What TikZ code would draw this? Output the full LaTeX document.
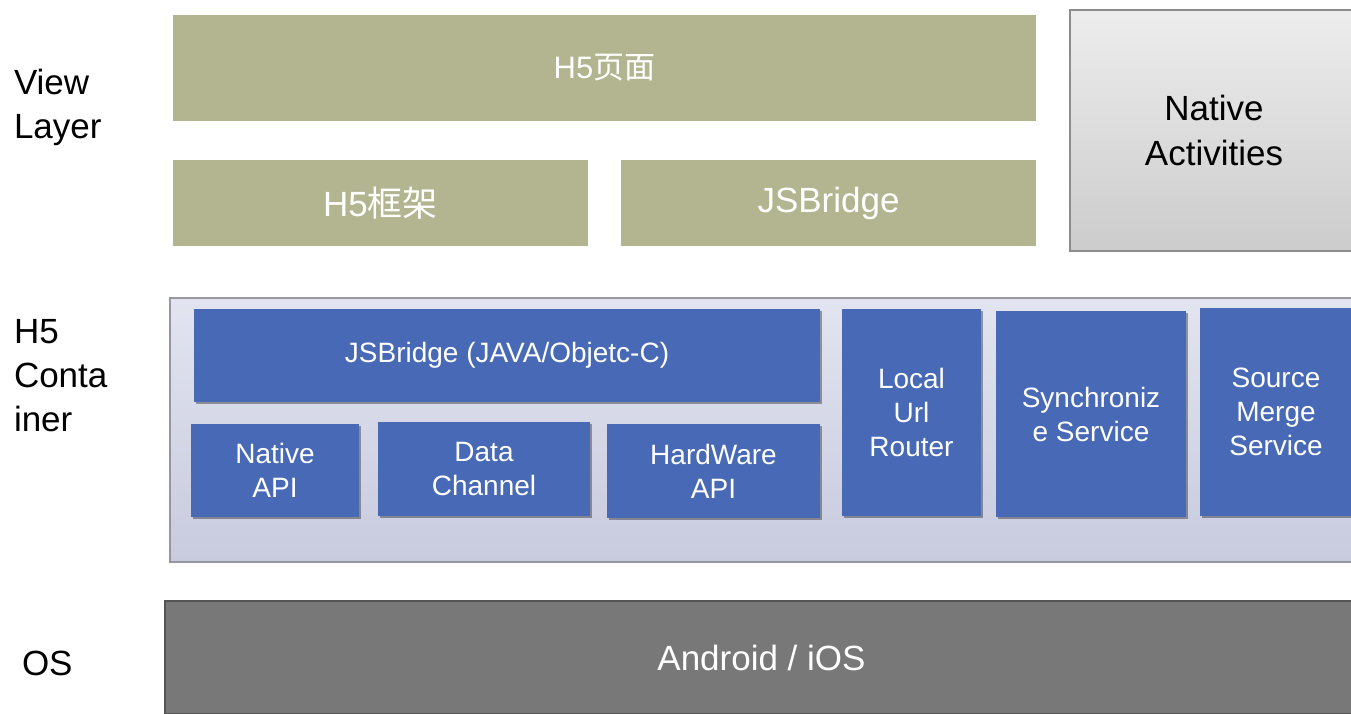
\documentclass[tikz,border=0pt]{standalone}
\usepackage{fontspec}
\setmainfont{Liberation Sans}
\newfontfamily\cjk{Noto Sans CJK SC}
\usetikzlibrary{shadows}
\definecolor{olive}{RGB}{179,181,145}
\definecolor{blueb}{RGB}{72,106,182}
\definecolor{osgray}{RGB}{120,120,120}
\definecolor{osborder}{RGB}{85,85,85}
\definecolor{contop}{RGB}{226,228,240}
\definecolor{conbot}{RGB}{200,203,222}
\definecolor{conborder}{RGB}{150,150,160}
\newcommand\rbox[7]{\node[#6, minimum width={#4-#2}, minimum height={#5-#3}] (#1) at ({(#2+#4)/2},{(#3+#5)/2}) {#7};}
\tikzset{
  every node/.style={inner sep=0pt, outer sep=0pt},
  olivebox/.style={fill=olive, text=white, font=\fontsize{35}{42}\selectfont},
  bluebox/.style={fill=blueb, text=white, align=center, font=\fontsize{28}{34}\selectfont,
     drop shadow={shadow xshift=2pt, shadow yshift=-2pt, opacity=0.35, fill=black}},
  nativebox/.style={draw=gray!90, line width=1.5pt, top color=black!7, bottom color=black!20, align=center, font=\fontsize{35}{45}\selectfont},
  containerbox/.style={draw=conborder, line width=1.2pt, top color=contop, bottom color=conbot},
  osbox/.style={draw=osborder, line width=2.5pt, fill=osgray, text=white, font=\fontsize{35}{42}\selectfont},
  layerlabel/.style={anchor=west, align=left, font=\fontsize{35}{44}\selectfont}
}
\begin{document}
\begin{tikzpicture}[x=1pt,y=-1pt]
\clip (0,0) rectangle (1351,713);
\fill[white] (0,0) rectangle (1351,713);
% View layer
\rbox{h5page}{173}{15}{1036}{121}{olivebox, font=\fontsize{31}{38}\selectfont}{H5{\cjk 页面}}
\rbox{h5frame}{173}{160}{588}{246}{olivebox}{H5{\cjk 框架}}
\rbox{jsb}{621}{160}{1036}{246}{olivebox}{JSBridge}
\rbox{native}{1070}{10}{1358}{251}{nativebox}{Native\\Activities}
% H5 container
\rbox{container}{170}{298}{1358}{562}{containerbox}{}
\rbox{jsbnative}{194}{309}{820}{402}{bluebox}{JSBridge (JAVA/Objetc-C)}
\rbox{napi}{191}{424}{359}{517}{bluebox}{Native\\API}
\rbox{dchan}{378}{422}{590}{516}{bluebox}{Data\\Channel}
\rbox{hwapi}{607}{424}{820}{518}{bluebox}{HardWare\\API}
\rbox{router}{842}{309}{981}{516}{bluebox}{Local\\Url\\Router}
\rbox{sync}{996}{311}{1186}{517}{bluebox}{Synchroniz\\e Service}
\rbox{merge}{1200}{308}{1352}{516}{bluebox}{Source\\Merge\\Service}
% OS
\rbox{os}{165}{601}{1358}{714}{osbox}{Android / iOS}
% labels
\node[layerlabel] (lview) at (14,107) {View\\Layer};
\node[layerlabel] (lcont) at (14,376) {H5\\Conta\\iner};
\node[layerlabel] (los) at (22,663) {OS};
\end{tikzpicture}
\end{document}
